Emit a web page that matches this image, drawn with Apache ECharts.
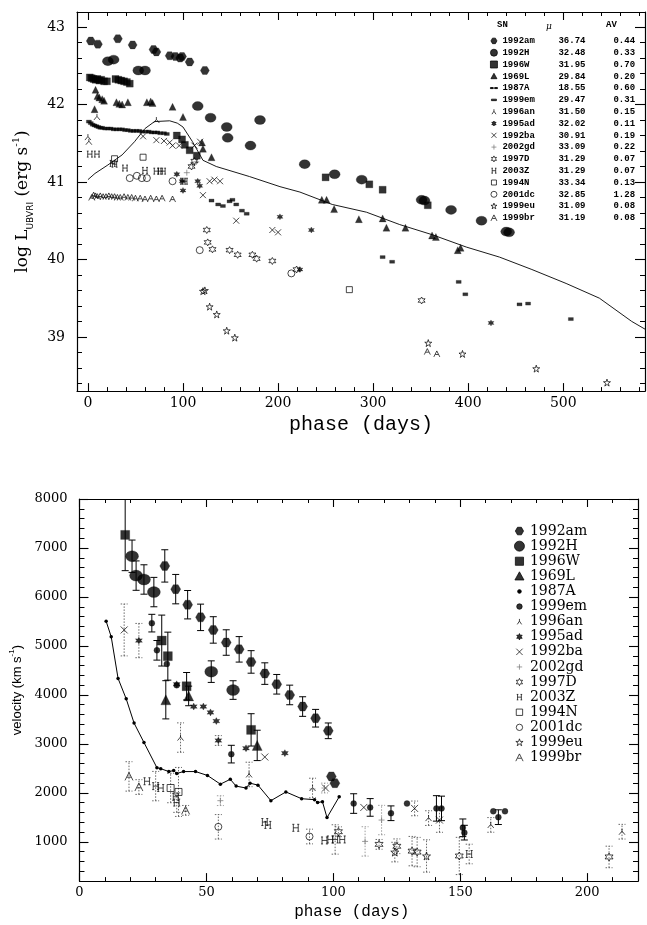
<!DOCTYPE html>
<html><head><meta charset="utf-8">
<script src="https://cdn.jsdelivr.net/npm/echarts@6/dist/echarts.min.js"></script>
<style>html,body{margin:0;padding:0;background:#fff}#top{width:647px;height:440px}#bot{width:647px;height:485px}</style>
</head><body><div id="top"></div><div id="bot"></div>
<script>
// ---------------- DATA ----------------
const SN = ['1992am','1992H','1996W','1969L','1987A','1999em','1996an','1995ad','1992ba','2002gd','1997D','2003Z','1994N','2001dc','1999eu','1999br'];
const MU = ['36.74','32.48','31.95','29.84','18.55','29.47','31.50','32.02','30.91','33.09','31.29','31.29','33.34','32.85','31.09','31.19'];
const AV = ['0.44','0.33','0.70','0.20','0.60','0.31','0.15','0.11','0.19','0.22','0.07','0.07','0.13','1.28','0.08','0.08'];

// tick values
const TX_MAJOR = [0,100,200,300,400,500];
const TY_MAJOR = [39,40,41,42,43];
const BX_MAJOR = [0,50,100,150,200];
const BY_MAJOR = [1000,2000,3000,4000,5000,6000,7000,8000];

// top panel: [phase (days), log L]
const L_1992am = [[3,42.82],[10.5,42.78],[31.5,42.85],[47,42.77],[69,42.71],[72,42.68],[86,42.63],[92,42.62],[97,42.60],[99,42.62],[107,42.55],[123,42.44]];
const L_1992H = [[21,42.56],[27,42.58],[53,42.44],[60,42.44],[115.5,41.98],[129,41.83],[146,41.71],[147,41.57],[171,41.47],[181,41.80],[228,41.23],[259.5,41.10],[288,41.03],[351,40.77],[354,40.76],[382,40.64],[414,40.50],[440,40.36],[443,40.35]];
const L_1996W = [[2,42.35],[4,42.34],[6,42.33],[8,42.32],[10,42.33],[12,42.31],[14,42.32],[17,42.30],[20,42.30],[29,42.33],[32,42.32],[35,42.31],[38,42.30],[41,42.29],[44,42.27],[93.5,41.60],[99,41.55],[102,41.48],[107,41.41],[114.5,41.34],[250,41.06],[296,40.97],[310,40.90],[357.5,40.70]];
const L_1969L = [[7,41.94],[8,42.19],[10,42.11],[12,42.09],[15,42.07],[17,42.05],[30,42.03],[33,42.01],[36,42.00],[42,42.03],[62,42.03],[66,42.04],[68,42.02],[89,41.97],[100,41.84],[120,41.51],[121,41.43],[130,41.32],[246,40.77],[251,40.77],[259,40.65],[285,40.52],[310,40.53],[314,40.41],[334,40.41],[362,40.31],[366,40.29],[389,40.12],[392,40.15]];
const L_1987A = [[0,41.03],[7.4,41.11],[21,41.22],[36,41.35],[49,41.52],[60,41.69],[70,41.78],[86,41.79],[94,41.76],[100,41.71],[110,41.52],[121,41.28],[135,41.20],[170,41.07],[202,40.94],[223,40.87],[257,40.71],[293,40.61],[328,40.45],[362,40.32],[398,40.16],[433,40.03],[467,39.87],[503,39.69],[538,39.50],[572,39.20],[586,39.10]];
const L_1999em = [[1,41.78],[3,41.76],[5,41.74],[7,41.73],[9,41.72],[11,41.71],[13,41.70],[15,41.70],[18,41.69],[21,41.69],[24,41.69],[27,41.68],[30,41.68],[33,41.68],[36,41.68],[39,41.67],[42,41.67],[45,41.66],[48,41.66],[51,41.66],[54,41.66],[57,41.65],[61,41.65],[64,41.65],[67,41.64],[70,41.64],[73,41.64],[76,41.63],[80,41.63],[83,41.62],[130,40.76],[137,40.71],[142,40.69],[149,40.75],[152,40.77],[156,40.71],[162,40.63],[167,40.59],[310,40.03],[320,39.97],[390,39.71],[397,39.55],[454,39.42],[463,39.43],[508,39.23]];
const L_1996an = [[0,41.58],[1,41.52],[9.5,41.84],[72,41.80]];
const L_1995ad = [[93.5,41.10],[99,41.01],[100,40.89],[115.5,41.01],[117.6,40.95],[202,40.55],[223,39.87],[235,40.38],[424,39.18]];
const L_1992ba = [[58,41.59],[72,41.54],[80,41.53],[86,41.51],[89,41.47],[96,41.47],[112,41.47],[118,41.52],[121,40.83],[128,41.01],[133,41.03],[139,41.01],[156,40.50],[194,40.38],[200,40.35]];
const L_2002gd = [[104,41.12],[110,41.22],[114,41.26]];
const L_1997D = [[109,41.20],[112,41.27],[125,40.38],[126,40.22],[131,40.13],[149,40.12],[157.5,40.06],[173,40.06],[177.5,40.01],[194,39.98],[219.5,39.87],[351,39.47]];
const L_2003Z = [[2,41.36],[9.5,41.36],[26,41.24],[28,41.23],[39,41.18],[60,41.15],[72,41.14],[76,41.14],[79,41.14],[100,41.01],[102,41.01]];
const L_1994N = [[28,41.30],[58,41.32],[275,39.61]];
const L_2001dc = [[44,41.05],[51.5,41.08],[56.7,41.05],[62,41.05],[89,41.01],[117.6,40.12],[214,39.82]];
const L_1999eu = [[121,39.59],[123,39.60],[128,39.39],[135.5,39.29],[146,39.08],[154.5,38.99],[358,38.92],[394,38.78],[471.6,38.59],[546,38.41]];
const L_1999br = [[4,40.80],[6,40.83],[8,40.82],[10,40.81],[13,40.82],[16,40.81],[19,40.81],[22,40.82],[25,40.81],[28,40.81],[31,40.80],[34,40.80],[38,40.81],[42,40.80],[46,40.80],[50,40.79],[55,40.79],[60,40.78],[66,40.79],[72,40.78],[78,40.79],[89,40.78],[357,38.81],[367,38.78]];

// bottom panel: [phase (days), velocity (km/s), error half-width]
const V_1992am = [[33.6,6634,330],[37.9,6160,300],[42.6,5842,290],[47.7,5584,270],[52.7,5327,270],[57.8,5070,260],[62.9,4931,260],[67.6,4674,230],[73,4436,220],[77.7,4218,200],[82.8,4000,200],[87.9,3763,200],[93,3525,180],[98,3268,160],[99.2,2337,0],[100.6,2199,0]];
const V_1992H = [[20.7,6832,330],[22.3,6436,300],[25.4,6357,300],[29.3,6100,300],[51.9,4476,220],[60.5,4100,190]];
const V_1996W = [[18,7267,730],[32.4,5110,520],[34.8,4792,490],[42.2,4178,280],[67.6,3287,330]];
const V_1969L = [[34,3901,390],[43,3980,200],[70,2970,310]];
const V_1987A = [[10.5,5505,0],[12.5,5188,0],[15.2,4337,0],[18.4,3921,0],[21.5,3426,0],[25.4,3030,0],[30.5,2515,0],[32,2495,0],[35.2,2436,0],[37.1,2456,0],[38.3,2397,0],[41,2436,0],[45.7,2436,0],[50.4,2357,0],[55.5,2179,0],[59.4,2278,0],[61.7,2139,0],[65.6,2100,0],[67.2,2199,0],[70.3,2159,0],[75.4,1842,0],[81.3,2020,0],[87.5,1882,0],[92.6,1862,0],[93.8,1803,0],[95.7,1822,0],[97.5,1496,0],[102.3,1921,0]];
const V_1999em = [[28.5,5466,180],[30.5,4911,200],[34.4,4634,0],[38.3,4198,0],[59.8,2792,180],[108,1783,200],[114.5,1704,180],[122.7,1585,150],[129,1783,0],[140.6,1684,260],[142.6,1684,250],[151,1288,180],[151.6,1189,150],[163,1624,0],[165,1505,150],[167.6,1624,0]];
const V_1996an = [[39.8,3130,300],[66.8,2377,250],[91.8,2100,200],[137.5,1486,150],[162,1347,150],[213.7,1208,150]];
const V_1995ad = [[23.4,5110,350],[38.3,4218,0],[45,3763,0],[48.8,3763,0],[51.6,3644,0],[53.9,3466,0],[54.7,3070,100],[65.6,2911,0],[80.9,2812,0]];
const V_1992ba = [[17.6,5327,530],[73,2733,0],[96.9,2100,0],[112,1704,0],[132,1684,150],[141.8,1446,250]];
const V_2002gd = [[55.5,1842,100],[91.8,2080,0],[96.5,2100,100],[112.5,1010,300],[119,1446,300]];
const V_1997D = [[102,1208,100],[118,950,100],[125,911,150],[131,812,300],[133,792,300],[149.6,713,380],[208.6,693,220]];
const V_2003Z = [[26.6,2238,0],[30,2139,300],[32,2100,0],[37.9,1921,0],[38.3,1803,200],[73,1406,0],[74.2,1347,0],[85.2,1288,0],[96.5,1030,0],[98.8,1050,0],[100.7,1050,300],[103.5,1050,0],[153.5,753,200]];
const V_1994N = [[35.9,2100,300],[39,2020,500]];
const V_2001dc = [[54.7,1308,250],[90.6,1110,150]];
const V_1999eu = [[124.2,792,200],[136.7,713,330]];
const V_1999br = [[19.5,2337,300],[23.4,2120,150],[41.8,1644,100]];

const LUM = {'1992am':L_1992am,'1992H':L_1992H,'1996W':L_1996W,'1969L':L_1969L,'1987A':L_1987A,'1999em':L_1999em,'1996an':L_1996an,'1995ad':L_1995ad,'1992ba':L_1992ba,'2002gd':L_2002gd,'1997D':L_1997D,'2003Z':L_2003Z,'1994N':L_1994N,'2001dc':L_2001dc,'1999eu':L_1999eu,'1999br':L_1999br};
const VEL = {'1992am':V_1992am,'1992H':V_1992H,'1996W':V_1996W,'1969L':V_1969L,'1987A':V_1987A,'1999em':V_1999em,'1996an':V_1996an,'1995ad':V_1995ad,'1992ba':V_1992ba,'2002gd':V_2002gd,'1997D':V_1997D,'2003Z':V_2003Z,'1994N':V_1994N,'2001dc':V_2001dc,'1999eu':V_1999eu,'1999br':V_1999br};

// ---------------- STYLE ----------------
const CORE = {
  circle:'M0,5 A5,5 0 1,0 10,5 A5,5 0 1,0 0,5 Z',
  hex:'M2.6,0.4 L7.4,0.4 L10,5 L7.4,9.6 L2.6,9.6 L0,5 Z',
  rect:'M0,0 L10,0 L10,10 L0,10 Z',
  tri:'M5,0 L10,9 L0,9 Z',
  ylam:'M5,0 L5,4 M5,4 L1,10 M5,4 L9,10',
  star6:'M5,0 L6.3,2.7 L9.3,2.5 L7.6,5 L9.3,7.5 L6.3,7.3 L5,10 L3.7,7.3 L0.7,7.5 L2.4,5 L0.7,2.5 L3.7,2.7 Z',
  cross:'M0,0 L10,10 M10,0 L0,10',
  plus:'M5,0 L5,10 M0,5 L10,5',
  hbar:'M1.5,0 L1.5,10 M8.5,0 L8.5,10 M1.5,5 L8.5,5 M0,0 L3,0 M7,0 L10,0 M0,10 L3,10 M7,10 L10,10',
  star5:'M5,0 L6.2,3.6 L10,3.6 L6.9,5.9 L8.1,9.5 L5,7.3 L1.9,9.5 L3.1,5.9 L0,3.6 L3.8,3.6 Z',
  abar:'M0,10 L5,0 L10,10 M2.5,6 L7.5,6',
  dash:'M0,3.5 L10,3.5 L10,6.5 L0,6.5 Z',
  ddash:'M0,4.3 L4,4.3 L4,5.7 L0,5.7 Z M6,4.3 L10,4.3 L10,5.7 L6,5.7 Z'
};
// [top shape, open?, top size, bottom size, top legend size, bottom legend size, dashed err, bottom shape]
const STY = {
  '1992am':['hex',0,[9,8],[10,9],6,9,0,'hex'],
  '1992H':['circle',0,[11,9],[13,11],8,12,0,'circle'],
  '1996W':['rect',0,7,9,7,9,0,'rect'],
  '1969L':['tri',0,7,10,6,10,0,'tri'],
  '1987A':['ddash',0,0,3.5,7,4,0,'circle'],
  '1999em':['dash',0,[5,3],6,5,6,0,'circle'],
  '1996an':['ylam',1,6,6,5,6,1,'ylam'],
  '1995ad':['star6',0,6,7,5,7,1,'star6'],
  '1992ba':['cross',1,6,7,5,7,1,'cross'],
  '2002gd':['plus',1,6,6,5,6,1,'plus'],
  '1997D':['star6',1,7,8,6,8,1,'star6'],
  '2003Z':['hbar',1,6,7,5,6,1,'hbar'],
  '1994N':['rect',1,6,7,5,7,1,'rect'],
  '2001dc':['circle',1,7,7,6,7,1,'circle'],
  '1999eu':['star5',1,7,8,6,8,1,'star5'],
  '1999br':['abar',1,6,8,6,8,1,'abar']
};
const BUILTIN = {circle:'circle', rect:'rect', tri:'triangle'};
function symFor(shape, open){ return (!open && BUILTIN[shape]) ? BUILTIN[shape] : 'path://' + CORE[shape]; }
function legendIcon(shape, size, box){
  const pad = Math.max(0, (10*box/size - 10)/2);
  const a = -pad, b = 10 + pad;
  return 'path://M'+a+','+a+' L'+(a+0.01)+','+a+' M'+b+','+b+' L'+(b-0.01)+','+b+' '+CORE[shape];
}
function itemStyle(name){
  const s = STY[name];
  const c = name === '2002gd' ? '#777' : '#000';
  return s[1] ? {color:'rgba(0,0,0,0)', borderColor:c, borderWidth:0.9} : {color:c, borderColor:c, borderWidth:0.3};
}
const range = (a,b,s) => { const o=[]; for(let v=a; v<=b+1e-9; v+=s) o.push(Math.round(v*1000)/1000); return o; };

function axisPair(min, max, major, minor, majLen, minLen, label, pos){
  const line = {show:true, onZero:false, lineStyle:{color:'#000', width:1.2}};
  return [
    {type:'value', min, max, position:pos, axisLine:line,
     axisTick:{show:true, inside:true, length:majLen, customValues:major, lineStyle:{color:'#000', width:1.1}},
     axisLabel: label ? Object.assign({customValues:major, formatter: v => String(v)}, label) : {show:false},
     splitLine:{show:false}},
    {type:'value', min, max, position:pos, axisLine:{show:false, onZero:false},
     axisTick:{show:true, inside:true, length:minLen, customValues:minor, lineStyle:{color:'#000', width:1}},
     axisLabel:{show:false}, splitLine:{show:false}}
  ];
}

// ---------------- TOP CHART ----------------
const topChart = echarts.init(document.getElementById('top'), null, {renderer:'canvas'});
const TX = [-11.5, 586], TY = [38.3, 43.195];
const numLabel = {color:'#000', fontFamily:'DejaVu Serif', fontSize:14};
const topX = axisPair(TX[0], TX[1], TX_MAJOR, range(0,580,20), 8, 4, Object.assign({margin:5}, numLabel), 'bottom')
  .concat(axisPair(TX[0], TX[1], TX_MAJOR, range(0,580,20), 8, 4, null, 'top'));
topX[0].name = 'phase (days)'; topX[0].nameLocation = 'middle'; topX[0].nameGap = 19;
topX[0].nameTextStyle = {color:'#000', fontFamily:'Liberation Mono', fontSize:20};
const topY = axisPair(TY[0], TY[1], TY_MAJOR, range(38.4,43.0,0.2), 10, 5, Object.assign({margin:12}, numLabel), 'left')
  .concat(axisPair(TY[0], TY[1], TY_MAJOR, range(38.4,43.0,0.2), 10, 5, null, 'right'));
topY[0].name = '{m|log L}{s|UBVRI}{m| (erg s}{p|-1}{m|)}';
topY[0].nameLocation = 'middle'; topY[0].nameGap = 42; topY[0].nameRotate = 90;
topY[0].nameTextStyle = {color:'#000', rich:{
  m:{fontFamily:'DejaVu Serif', fontSize:17, color:'#000', lineHeight:24},
  s:{fontFamily:'DejaVu Sans', fontSize:9, color:'#000', verticalAlign:'bottom', lineHeight:12},
  p:{fontFamily:'DejaVu Serif', fontSize:10, color:'#000', verticalAlign:'top', lineHeight:12}}};

const topSeries = SN.map(name => {
  const s = STY[name];
  if (name === '1987A') {
    return {name, type:'line', data:LUM[name], xAxisIndex:0, yAxisIndex:0, symbol:'none', smooth:false,
            lineStyle:{color:'#000', width:0.9}, itemStyle:{color:'#000', borderColor:'#000'}, clip:true, z:2};
  }
  return {name, type:'scatter', data:LUM[name], xAxisIndex:0, yAxisIndex:0, symbol:symFor(s[0], s[1]), symbolSize:s[2],
          itemStyle:itemStyle(name), clip:true, z:3};
});
const MUmap = {}, AVmap = {};
SN.forEach((n,i) => { MUmap[n] = MU[i]; AVmap[n] = AV[i]; });
const monoB = {fontFamily:'Liberation Mono', fontWeight:'bold', fontSize:9, color:'#000', lineHeight:11.8};
topChart.setOption({
  animation:false,
  grid:{left:77, top:12, width:568, height:384, show:false},
  xAxis:topX, yAxis:topY,
  legend:{orient:'vertical', left:485, top:30, itemWidth:7, itemHeight:7, itemGap:0, selectedMode:false,
    itemStyle:{borderWidth:0.9},
    data: SN.map(n => ({name:n, icon:legendIcon(STY[n][0], STY[n][4], 7)})),
    formatter: n => '{n|' + n + '}{m|' + MUmap[n] + '}{a|' + AVmap[n] + '}',
    textStyle:Object.assign({rich:{n:Object.assign({width:56}, monoB), m:Object.assign({width:55}, monoB), a:Object.assign({}, monoB)}}, monoB)},
  graphic:[
    {type:'text', left:497, top:20, style:{text:'SN', font:'bold 9px "Liberation Mono"', fill:'#000'}},
    {type:'text', left:546, top:22, style:{text:'μ', font:'italic 9px "DejaVu Serif"', fill:'#000'}},
    {type:'text', left:606, top:20, style:{text:'AV', font:'bold 9px "Liberation Mono"', fill:'#000'}}
  ],
  series: topSeries
});

// ---------------- BOTTOM CHART ----------------
const botChart = echarts.init(document.getElementById('bot'), null, {renderer:'canvas'});
const BX = [0, 220], BY = [200, 8000];
const numLabel2 = {color:'#000', fontFamily:'DejaVu Serif', fontSize:13};
const botX = axisPair(BX[0], BX[1], BX_MAJOR, range(0,220,10), 8, 4, Object.assign({margin:5}, numLabel2), 'bottom')
  .concat(axisPair(BX[0], BX[1], BX_MAJOR, range(0,220,10), 8, 4, null, 'top'));
botX[0].name = 'phase (days)'; botX[0].nameLocation = 'middle'; botX[0].nameGap = 17;
botX[0].nameTextStyle = {color:'#000', fontFamily:'Liberation Mono', fontSize:16, padding:[0,14,0,0]};
const botY = axisPair(BY[0], BY[1], BY_MAJOR, range(200,8000,200), 9, 5, Object.assign({margin:12}, numLabel2), 'left')
  .concat(axisPair(BY[0], BY[1], BY_MAJOR, range(200,8000,200), 9, 5, null, 'right'));
botY[0].name = '{m|velocity (km s}{p|-1}{m|)}';
botY[0].nameLocation = 'middle'; botY[0].nameGap = 52; botY[0].nameRotate = 90;
botY[0].nameTextStyle = {color:'#000', rich:{
  m:{fontFamily:'Liberation Sans', fontSize:13, color:'#000', lineHeight:18},
  p:{fontFamily:'Liberation Sans', fontSize:8, color:'#000', verticalAlign:'top', lineHeight:10}}};

const errData = [];
SN.forEach(name => VEL[name].forEach(p => { if (p[2] > 0) errData.push([p[0], p[1], p[2], STY[name][6], name === '2002gd' ? 1 : 0]); }));
function errRender(params, api){
  const x = api.value(0), y = api.value(1), e = api.value(2), dashed = api.value(3), gray = api.value(4);
  const lo = api.coord([x, y - e]), hi = api.coord([x, y + e]);
  const w = 3.5;
  const style = {stroke: gray ? '#888' : (dashed ? '#444' : '#000'), lineWidth: dashed ? 0.8 : 1, lineDash: dashed ? [1.5,1.5] : null, fill:null};
  return {type:'group', children:[
    {type:'line', shape:{x1:lo[0], y1:lo[1], x2:hi[0], y2:hi[1]}, style},
    {type:'line', shape:{x1:lo[0]-w, y1:lo[1], x2:lo[0]+w, y2:lo[1]}, style},
    {type:'line', shape:{x1:hi[0]-w, y1:hi[1], x2:hi[0]+w, y2:hi[1]}, style}
  ]};
}
const botSeries = [{name:'err', type:'custom', data:errData, renderItem:errRender, encode:{x:0, y:1}, clip:true, z:1, silent:true}];
SN.forEach(name => {
  const s = STY[name];
  const data = VEL[name].map(p => [p[0], p[1]]);
  if (name === '1987A') {
    botSeries.push({name, type:'line', data, symbol:'circle', symbolSize:s[3], lineStyle:{color:'#000', width:1},
      itemStyle:{color:'#000', borderColor:'#000', borderWidth:0}, clip:true, z:2});
    return;
  }
  botSeries.push({name, type:'scatter', data, symbol:symFor(s[7], s[1]), symbolSize:s[3], itemStyle:itemStyle(name), clip:true, z:3});
});
botChart.setOption({
  animation:false,
  grid:{left:75, top:59, width:563, height:394, show:false},
  xAxis:botX, yAxis:botY,
  legend:{orient:'vertical', left:509, top:78.5, itemWidth:11, itemHeight:10, itemGap:0, selectedMode:false,
    itemStyle:{borderWidth:0.9},
    data: SN.map(n => ({name:n, icon:legendIcon(STY[n][7], STY[n][5], 11)})),
    textStyle:{fontFamily:'DejaVu Serif', fontSize:14, color:'#000', lineHeight:15.1}},
  series: botSeries
});
</script></body></html>
